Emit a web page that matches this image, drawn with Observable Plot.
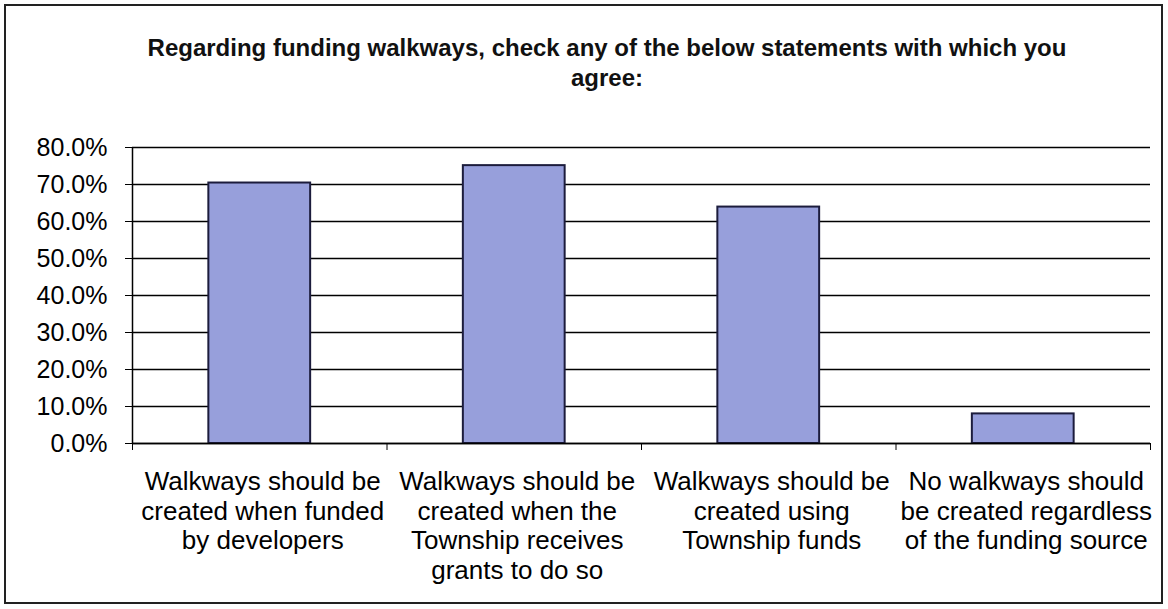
<!DOCTYPE html>
<html>
<head>
<meta charset="utf-8">
<script src="https://cdn.jsdelivr.net/npm/d3@7"></script>
<script src="https://cdn.jsdelivr.net/npm/@observablehq/plot@0.6"></script>
<style>
  html, body { margin: 0; padding: 0; background: #fff; }
  #wrap { position: relative; width: 1168px; height: 609px; overflow: hidden; font-family: "Liberation Sans", Arial, sans-serif; }
  #frame { position: absolute; left: 4px; top: 4px; width: 1159px; height: 600px; border: 2px solid #222; box-sizing: border-box; }
  #title { position: absolute; left: 57px; width: 1100px; top: 33px; text-align: center; font-size: 24px; font-weight: bold; line-height: 30px; color: #111; }
  #chart { position: absolute; left: 0; top: 0; }
</style>
</head>
<body>
<div id="wrap">
  <div id="frame"></div>
  <div id="title">Regarding funding walkways, check any of the below statements with which you<br>agree:</div>
  <div id="chart"></div>
</div>
<script>
const categories = [
  "Walkways should be\ncreated when funded\nby developers",
  "Walkways should be\ncreated when the\nTownship receives\ngrants to do so",
  "Walkways should be\ncreated using\nTownship funds",
  "No walkways should\nbe created regardless\nof the funding source"
];
const values = [70.4, 75.1, 63.9, 8.0];
const yTicks = [0, 10, 20, 30, 40, 50, 60, 70, 80];

const rows = categories.map((label, i) => ({ i, label, value: values[i] }));
const bounds = [-0.5].concat(categories.map((_, i) => i + 0.5));

const chart = Plot.plot({
  width: 1168,
  height: 609,
  marginTop: 147,
  marginBottom: 166,
  marginLeft: 132,
  marginRight: 18,
  style: { background: "transparent", color: "#000", fontFamily: "'Liberation Sans', Arial, sans-serif" },
  x: { domain: [-0.5, categories.length - 0.5], label: null },
  y: { domain: [0, 80], label: null },
  marks: [
    Plot.gridY(yTicks, { stroke: "#000", strokeOpacity: 1, strokeWidth: 1.3 }),
    Plot.rectY(rows, {
      x1: d => d.i - 0.2,
      x2: d => d.i + 0.2,
      y: "value",
      fill: "#979fdb",
      stroke: "#1c1c3c",
      strokeWidth: 2
    }),
    Plot.ruleX([-0.5], { stroke: "#000", strokeWidth: 1.5 }),
    Plot.ruleY([0], { stroke: "#000", strokeWidth: 1.5 }),
    Plot.axisY({
      ticks: yTicks,
      tickFormat: d => d.toFixed(1) + "%",
      tickSize: 7,
      tickPadding: 18,
      fontSize: 25,
      label: null,
      stroke: "#000"
    }),
    Plot.axisX({
      ticks: bounds,
      tickFormat: () => "",
      tickSize: 7,
      label: null,
      stroke: "#000"
    }),
    Plot.text(rows, {
      x: "i",
      frameAnchor: "bottom",
      text: "label",
      lineAnchor: "top",
      dy: 26,
      dx: 3,
      fontSize: 26,
      lineHeight: 1.135,
      fill: "#000"
    })
  ]
});
document.getElementById("chart").appendChild(chart);
</script>
</body>
</html>
